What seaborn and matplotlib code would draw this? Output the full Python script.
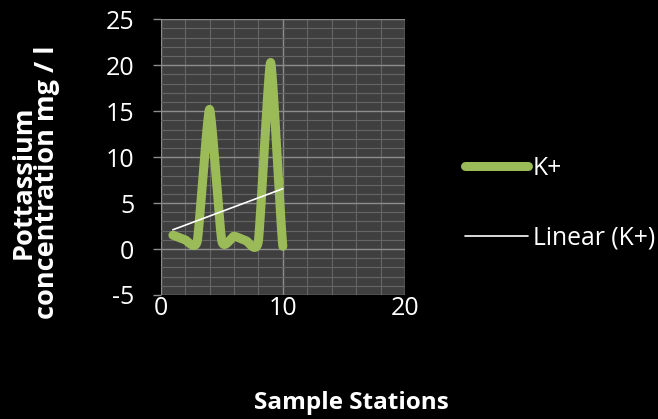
import numpy as np
import pandas as pd
import matplotlib
matplotlib.use("Agg")
import matplotlib.pyplot as plt
import seaborn as sns
from matplotlib.ticker import MultipleLocator

# Data
stations = [1, 2, 3, 4, 5, 6, 7, 8, 9, 10]
potassium = [1.5, 1.0, 0.9, 15.2, 0.9, 1.4, 0.9, 0.9, 20.3, 0.3]
series_label = "K+"
trend_label = "Linear (K+)"
x_ticks = [0, 10, 20]
y_ticks = [-5, 0, 5, 10, 15, 20, 25]

sns.set_theme(style="dark")
plt.rcParams['font.family'] = ['Open Sans', 'DejaVu Sans']
plt.rcParams['axes.unicode_minus'] = False


def smooth_curve(xs, ys, n=40, c=0.5):
    # cardinal spline smoothing (like a spreadsheet "smoothed line")
    xs = np.asarray(xs, float); ys = np.asarray(ys, float)
    px = np.concatenate([[2 * xs[0] - xs[1]], xs, [2 * xs[-1] - xs[-2]]])
    py = np.concatenate([[ys[0]], ys, [ys[-1]]])
    ox, oy = [], []
    t = np.linspace(0, 1, n, endpoint=False)
    h00 = 2 * t**3 - 3 * t**2 + 1
    h10 = t**3 - 2 * t**2 + t
    h01 = -2 * t**3 + 3 * t**2
    h11 = t**3 - t**2
    for i in range(1, len(px) - 2):
        for arr, out in ((px, ox), (py, oy)):
            p0, p1, p2, p3 = arr[i - 1], arr[i], arr[i + 1], arr[i + 2]
            m1 = c * (p2 - p0) / 2
            m2 = c * (p3 - p1) / 2
            out.extend(h00 * p1 + h10 * m1 + h01 * p2 + h11 * m2)
    ox.append(xs[-1]); oy.append(ys[-1])
    return np.array(ox), np.array(oy)


sx, sy = smooth_curve(stations, potassium)
df_s = pd.DataFrame({"x": sx, "y": sy})
coef = np.polyfit(stations, potassium, 1)
tx = np.array([stations[0], stations[-1]], float)
df_t = pd.DataFrame({"x": tx, "y": np.polyval(coef, tx)})

fig = plt.figure(figsize=(6.58, 4.19), dpi=100, facecolor="black")
ax = fig.add_axes([0.2442, 0.296, 0.3713, 0.658])
ax.set_facecolor("#3f3f3f")

sns.lineplot(data=df_s, x="x", y="y", ax=ax, color="#9BBB59", linewidth=6.5,
             sort=False, estimator=None, solid_capstyle="round",
             solid_joinstyle="round", label=series_label, zorder=3)
sns.lineplot(data=df_t, x="x", y="y", ax=ax, color="white", linewidth=1.2,
             sort=False, estimator=None, label=trend_label, zorder=4)

ax.set_xlim(0, 20)
ax.set_ylim(-5, 25)
ax.set_xticks(x_ticks)
ax.set_yticks(y_ticks)
ax.xaxis.set_minor_locator(MultipleLocator(2))
ax.yaxis.set_minor_locator(MultipleLocator(1))
ax.grid(True, which="major", color="#8c8c8c", linewidth=1.0)
ax.grid(True, which="minor", color="#656565", linewidth=0.8)
ax.set_axisbelow(True)
for sp in ax.spines.values():
    sp.set_visible(False)
ax.tick_params(axis="y", which="major", length=6, width=1, color="#8c8c8c",
               labelcolor="white", labelsize=18, pad=13, left=True)
ax.tick_params(axis="x", which="major", length=0, labelcolor="white",
               labelsize=18, pad=1)
ax.tick_params(which="minor", length=0)

ax.set_xlabel("")
ax.set_ylabel("")
fig.text(0.054, 0.566, "Pottassium\nconcentration mg / l", rotation=90,
         color="white", fontsize=19.5, fontweight="bold", ha="center",
         va="center", linespacing=0.88)
fig.text(0.534, 0.038, "Sample Stations", color="white", fontsize=17.5,
         fontweight="bold", ha="center", va="center")

ax.get_legend().remove()
h, l = ax.get_legend_handles_labels()
leg = fig.legend(h, l, loc="center left", bbox_to_anchor=(0.707, 0.515),
                 frameon=False, fontsize=17.8, labelcolor="white",
                 handlelength=2.55, handletextpad=0.18, labelspacing=1.8,
                 borderpad=0, borderaxespad=0)

fig.savefig("out.png", dpi=100, facecolor="black")
